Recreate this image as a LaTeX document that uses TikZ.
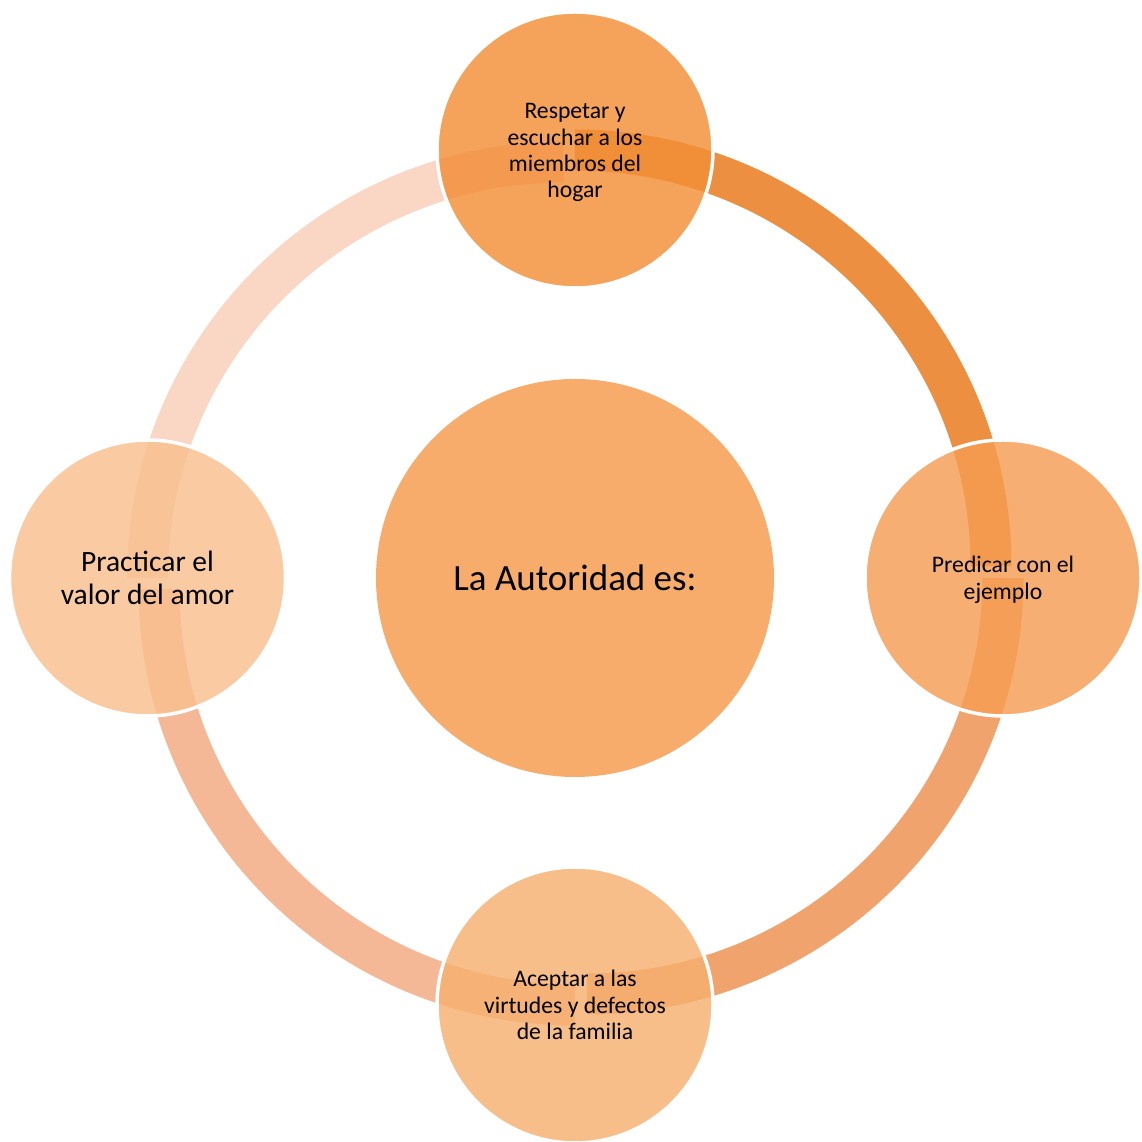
\documentclass[tikz,border=0pt]{standalone}
\usepackage{fontspec}
\setmainfont{Carlito}
\pgfdeclarelayer{background}
\pgfsetlayers{background,main}
\definecolor{cCenter}{HTML}{F7AC6C}
\definecolor{cTop}{HTML}{F38E37}
\definecolor{cRight}{HTML}{F59D53}
\definecolor{cBottom}{HTML}{F6B070}
\definecolor{cLeft}{HTML}{F9C08F}
\definecolor{arcA}{HTML}{EC8F41}
\definecolor{arcB}{HTML}{F0A36D}
\definecolor{arcC}{HTML}{F5B896}
\definecolor{arcD}{HTML}{FAD6C4}
\newcommand{\lowertext}[1]{\raisebox{-3pt}[\height][\depth]{\begin{tabular}{@{}c@{}}#1\end{tabular}}}
\begin{document}
\begin{tikzpicture}[x=1pt,y=1pt,
  bubble/.style={circle,inner sep=0pt,minimum size=276pt,draw=white,line width=3.5pt,
    fill opacity=0.82,text opacity=1,draw opacity=1,align=center,text=black,
    font=\fontsize{23.7}{26.3}\selectfont},
  ringseg/.style={line width=41pt,line cap=butt}]
\useasboundingbox (0,0) rectangle (1142,1142);
\node[circle,fill=cCenter,minimum size=398pt,inner sep=0pt,text=black,
  font=\fontsize{37}{42}\selectfont] (center) at (575,564) {La Autoridad es:};
\node[bubble,fill=cTop] (top) at (575,992) {\lowertext{Respetar y\\escuchar a los\\miembros del\\hogar}};
\node[bubble,fill=cRight,font=\fontsize{23.7}{27}\selectfont] (right) at (1003,564) {\lowertext{Predicar con el\\ejemplo}};
\node[bubble,fill=cBottom] (bottom) at (575,137) {\lowertext{Aceptar a las\\virtudes y defectos\\de la familia}};
\node[bubble,fill=cLeft,font=\fontsize{29.5}{33}\selectfont] (left) at (147.5,564) {Practicar el\\valor del amor};
\begin{pgfonlayer}{background}
\fill[white] (0,0) rectangle (1142,1142);
\draw[ringseg,draw=arcA] (top.center) arc[start angle=90,end angle=0,radius=416pt];
\draw[ringseg,draw=arcB] (right.center) arc[start angle=0,end angle=-90,radius=416pt];
\draw[ringseg,draw=arcC] (bottom.center) arc[start angle=270,end angle=180,radius=416pt];
\draw[ringseg,draw=arcD] (left.center) arc[start angle=180,end angle=90,radius=416pt];
\end{pgfonlayer}
\end{tikzpicture}
\end{document}
